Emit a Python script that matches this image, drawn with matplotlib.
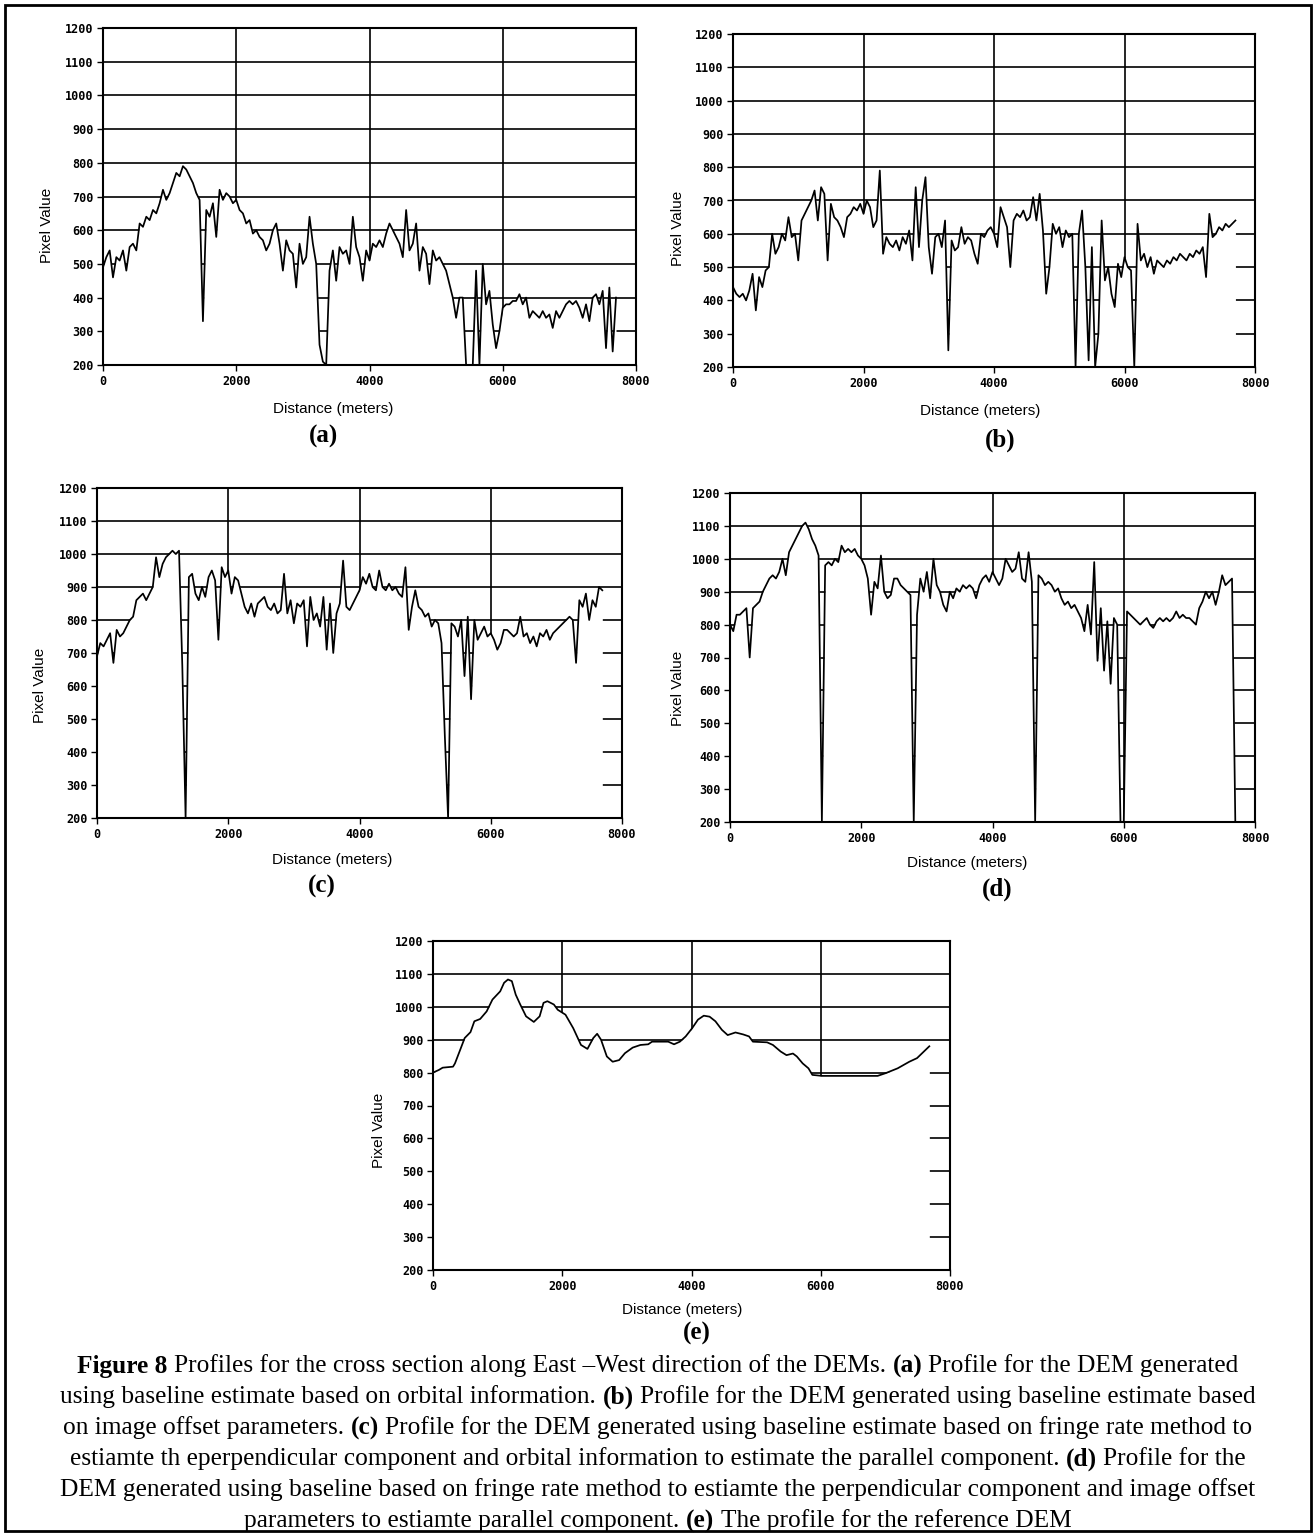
import numpy as np
import matplotlib.pyplot as plt
from matplotlib.font_manager import FontProperties
from matplotlib.patches import Rectangle

# profiles sampled every 50 m along the East-West section (0 .. 7700 m)
STEP_M = 50

profile_a = [
    490, 520, 540, 460, 520, 510, 540, 480, 550, 560,
    540, 620, 610, 640, 630, 660, 650, 680, 720, 690,
    710, 740, 770, 760, 790, 780, 760, 740, 710, 690,
    330, 660, 640, 680, 580, 720, 690, 710, 700, 680,
    690, 660, 650, 620, 630, 590, 600, 580, 570, 540,
    560, 600, 620, 560, 480, 570, 540, 530, 430, 560,
    500, 520, 640, 560, 500, 260, 210, 200, 480, 540,
    450, 550, 530, 540, 500, 640, 550, 520, 450, 540,
    510, 560, 550, 570, 550, 590, 620, 600, 580, 560,
    520, 660, 540, 560, 620, 480, 550, 530, 440, 540,
    510, 520, 500, 480, 440, 400, 340, 400, 400, 200,
    200, 200, 480, 200, 500, 380, 420, 320, 250, 300,
    370, 380, 380, 390, 390, 410, 380, 400, 340, 360,
    350, 340, 360, 340, 350, 310, 360, 340, 360, 380,
    390, 380, 390, 370, 340, 380, 330, 400, 410, 380,
    420, 250, 430, 240, 400,
]

profile_b = [
    440, 420, 410, 420, 400, 430, 480, 370, 470, 440,
    490, 500, 600, 540, 560, 600, 580, 650, 590, 600,
    520, 640, 660, 680, 700, 730, 640, 740, 720, 520,
    690, 650, 640, 620, 590, 650, 660, 680, 670, 690,
    660, 700, 680, 620, 640, 790, 540, 590, 570, 560,
    580, 550, 590, 570, 610, 520, 740, 560, 700, 770,
    560, 480, 590, 600, 560, 640, 250, 580, 550, 560,
    620, 570, 590, 580, 540, 510, 600, 590, 610, 620,
    600, 560, 680, 650, 620, 500, 640, 660, 650, 670,
    640, 650, 710, 640, 720, 610, 420, 500, 630, 600,
    620, 560, 610, 590, 600, 200, 600, 670, 500, 220,
    560, 200, 300, 640, 460, 500, 420, 380, 510, 470,
    530, 500, 490, 200, 630, 520, 540, 500, 530, 480,
    520, 510, 500, 520, 510, 530, 520, 540, 530, 520,
    540, 530, 550, 540, 560, 470, 660, 590, 600, 620,
    610, 630, 620, 630, 640,
]

profile_c = [
    690, 730, 720, 740, 760, 670, 770, 750, 760, 780,
    800, 810, 860, 870, 880, 860, 880, 900, 990, 930,
    970, 990, 1000, 1010, 1000, 1010, 660, 200, 930, 940,
    880, 860, 900, 870, 930, 950, 920, 740, 960, 930,
    950, 880, 930, 920, 880, 840, 820, 850, 810, 850,
    860, 870, 840, 830, 850, 820, 830, 940, 820, 860,
    790, 850, 840, 860, 720, 870, 800, 820, 780, 870,
    710, 850, 700, 820, 850, 980, 840, 830, 850, 870,
    890, 930, 910, 940, 900, 890, 950, 900, 890, 910,
    890, 900, 880, 870, 960, 770, 840, 890, 840, 830,
    810, 820, 780, 800, 790, 730, 450, 200, 790, 780,
    750, 800, 630, 810, 560, 800, 740, 760, 780, 750,
    760, 740, 710, 730, 770, 770, 760, 750, 760, 810,
    750, 760, 730, 750, 720, 760, 750, 770, 740, 760,
    770, 780, 790, 800, 810, 800, 670, 860, 840, 880,
    800, 860, 840, 900, 890,
]

profile_d = [
    800, 780, 830, 830, 840, 850, 700, 850, 860, 870,
    900, 920, 940, 950, 940, 960, 1000, 950, 1020, 1040,
    1060, 1080, 1100, 1110, 1090, 1060, 1040, 1010, 200, 980,
    990, 980, 1000, 990, 1040, 1020, 1030, 1020, 1030, 1010,
    1000, 980, 940, 830, 930, 910, 1010, 900, 880, 890,
    940, 940, 920, 910, 900, 890, 200, 830, 940, 900,
    960, 880, 1000, 920, 900, 860, 840, 900, 880, 910,
    900, 920, 910, 920, 910, 880, 920, 940, 950, 930,
    960, 940, 920, 940, 1000, 980, 960, 970, 1020, 940,
    930, 1020, 930, 200, 950, 940, 920, 930, 920, 900,
    910, 880, 860, 870, 850, 860, 840, 820, 780, 860,
    770, 990, 690, 850, 660, 810, 620, 820, 800, 200,
    200, 840, 830, 820, 810, 800, 810, 820, 800, 790,
    810, 820, 810, 820, 810, 820, 840, 820, 830, 820,
    820, 810, 800, 850, 870, 900, 880, 900, 860, 900,
    950, 920, 930, 940, 200,
]

# reference DEM profile (smooth), read at irregular distances
ref_dist = [0, 90, 150, 310, 340, 430, 490, 580, 640, 730, 830, 920, 1040, 1100,
            1160, 1220, 1280, 1350, 1440, 1560, 1650, 1710, 1770, 1870, 1930, 2050,
            2170, 2290, 2390, 2480, 2540, 2600, 2690, 2780, 2880, 2970, 3090, 3210,
            3330, 3390, 3640, 3730, 3820, 3910, 4010, 4100, 4190, 4280, 4370, 4470,
            4560, 4680, 4800, 4890, 4950, 5170, 5260, 5380, 5470, 5570, 5630, 5720,
            5810, 5870, 6020, 6880, 7000, 7190, 7370, 7490, 7680]
ref_elev = [800, 808, 815, 818, 828, 874, 905, 923, 956, 963, 986, 1022, 1047, 1073,
            1083, 1078, 1037, 1007, 971, 954, 971, 1012, 1017, 1007, 991, 976,
            935, 884, 872, 905, 918, 900, 849, 833, 838, 859, 876, 884,
            886, 894, 894, 886, 894, 910, 935, 961, 973, 970, 956, 930,
            914, 922, 916, 910, 894, 892, 884, 864, 853, 858, 849, 828,
            813, 793, 790, 790, 798, 813, 833, 844, 880]

x_ticks = [0, 2000, 4000, 6000, 8000]
y_ticks = list(range(200, 1201, 100))

panel_letters = ["(a)", "(b)", "(c)", "(d)", "(e)"]
x_title = "Distance (meters)"
y_title = "Pixel Value"

caption = [
    [("Figure 8", True), ("Profiles for the cross section along East \u2013West direction of the DEMs.", False),
     ("(a)", True), ("Profile for the DEM generated", False)],
    [("using baseline estimate based on orbital information.", False), ("(b)", True),
     ("Profile for the DEM generated using baseline estimate based", False)],
    [("on image offset parameters.", False), ("(c)", True),
     ("Profile for the DEM generated using baseline estimate based on fringe rate method to", False)],
    [("estiamte th eperpendicular component and orbital information to estimate the parallel component.", False),
     ("(d)", True), ("Profile for the", False)],
    [("DEM generated using baseline based on fringe rate method to estiamte the perpendicular component and image offset", False)],
    [("parameters to estiamte parallel component.", False), ("(e)", True),
     ("The profile for the reference DEM", False)],
]

W, H = 1316, 1533
fig = plt.figure(figsize=(W / 100, H / 100), dpi=100)
renderer = fig.canvas.get_renderer()

tick_fp = FontProperties(family="DejaVu Sans Mono", weight="bold", size=8.5)


def fx(px):
    return px / W


def fy(py):
    return 1 - py / H


def draw_profile(box, dist, elev, xlab_pos, ylab_pos, letter_pos, letter):
    l, r, t, b = box
    ax = fig.add_axes([fx(l), fy(b), (r - l) / W, (b - t) / H])
    ax.set_xlim(0, 8000)
    ax.set_ylim(200, 1200)
    ax.set_xticks(x_ticks)
    ax.set_yticks(y_ticks)
    ax.set_xticklabels([str(v) for v in x_ticks])
    ax.set_yticklabels([str(v) for v in y_ticks])
    for lab in ax.get_xticklabels() + ax.get_yticklabels():
        lab.set_fontproperties(tick_fp)
    ax.tick_params(direction="out", length=4, width=1, pad=3, colors="black")
    ax.grid(True, color="black", lw=1.2)
    ax.set_axisbelow(True)
    # area under the profile is blank, hiding the grid
    ax.fill_between(dist, 200, elev, color="white", lw=0, zorder=1.5)
    ax.plot(dist, elev, color="black", lw=1.25, zorder=2)
    for sp in ax.spines.values():
        sp.set_linewidth(1.5)
    fig.text(fx(xlab_pos[0]), fy(xlab_pos[1]), x_title, family="Liberation Sans",
             size=11, ha="center", va="center")
    fig.text(fx(ylab_pos[0]), fy(ylab_pos[1]), y_title, family="Liberation Sans",
             size=11, ha="center", va="center", rotation=90)
    fig.text(fx(letter_pos[0]), fy(letter_pos[1]), letter, family="Liberation Serif",
             weight="bold", size=18, ha="center", va="center")
    return ax


dist_a = np.arange(len(profile_a)) * STEP_M
dist_b = np.arange(len(profile_b)) * STEP_M
dist_c = np.arange(len(profile_c)) * STEP_M
dist_d = np.arange(len(profile_d)) * STEP_M

draw_profile((103, 636, 28, 365), dist_a, profile_a, (333, 409), (47, 225), (323, 436), panel_letters[0])
draw_profile((733, 1255, 34, 367), dist_b, profile_b, (980, 411), (678, 228), (1000, 440), panel_letters[1])
draw_profile((97, 622, 488, 818), dist_c, profile_c, (332, 860), (40, 685), (322, 886), panel_letters[2])
draw_profile((730, 1255, 493, 822), dist_d, profile_d, (967, 863), (678, 688), (997, 889), panel_letters[3])
draw_profile((433, 950, 941, 1270), ref_dist, ref_elev, (682, 1310), (379, 1130), (697, 1333), panel_letters[4])


# caption with bold pieces, each line centred
def text_width(s, bold, size):
    t = fig.text(0, 0, s, family="Liberation Serif", weight="bold" if bold else "normal", size=size)
    w = t.get_window_extent(renderer).width
    t.remove()
    return w


base = 10.0
line1 = sum(text_width(s, b, base) for s, b in caption[0])
line1 += (len(caption[0]) - 1) * (text_width("x x", False, base) - text_width("xx", False, base))
cap_size = base * 1160 / line1
space_w = text_width("x x", False, cap_size) - text_width("xx", False, cap_size)

cap_y = [1366, 1397, 1428, 1459, 1490, 1521]
for yc, parts in zip(cap_y, caption):
    widths = [text_width(s, b, cap_size) for s, b in parts]
    total = sum(widths) + space_w * (len(parts) - 1)
    x = (W - total) / 2
    for (s, b), w in zip(parts, widths):
        fig.text(fx(x), fy(yc), s, family="Liberation Serif", weight="bold" if b else "normal",
                 size=cap_size, ha="left", va="center")
        x += w + space_w

fig.patches.append(Rectangle((fx(5), fy(1531)), (1311 - 5) / W, (1531 - 5) / H,
                             transform=fig.transFigure, fill=False, ec="black", lw=2))

fig.savefig("out.png", dpi=100)
